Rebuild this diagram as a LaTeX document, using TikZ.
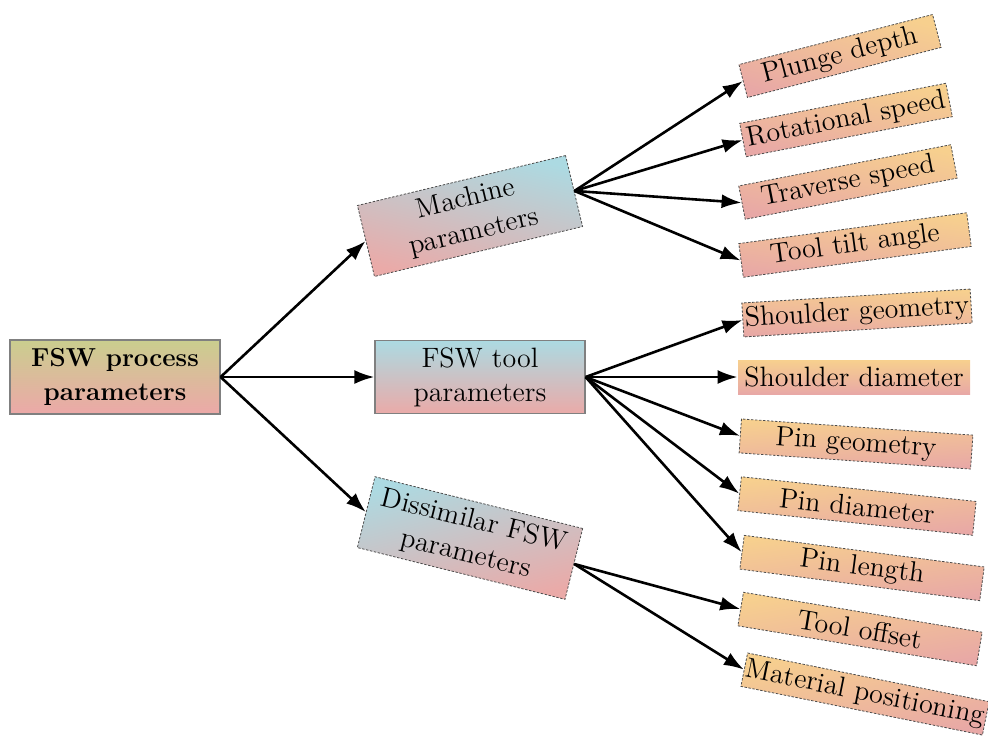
\documentclass[tikz,border=0pt]{standalone}
\usetikzlibrary{arrows.meta}

\definecolor{rootgreen}{RGB}{202,206,142}
\definecolor{rootpink}{RGB}{236,168,168}
\definecolor{groupblue}{RGB}{172,218,226}
\definecolor{grouppink}{RGB}{234,170,168}
\definecolor{leaforange}{RGB}{247,208,142}
\definecolor{leafpink}{RGB}{232,168,166}

\begin{document}
\begin{tikzpicture}[x=0.5pt,y=-0.5pt,
    box/.style={font=\fontsize{14}{17}\selectfont, align=center, inner sep=2pt},
    dashedge/.style={draw=gray!60!black, dash pattern=on 1.2pt off 0.8pt, line width=0.4pt},
    rootbox/.style={box, font=\fontsize{13}{17}\selectfont\bfseries, draw=gray,
      line width=0.6pt, top color=rootgreen, bottom color=rootpink,
      minimum width=105pt, minimum height=37pt},
    groupbox/.style={box, top color=groupblue, bottom color=grouppink,
      minimum width=107pt, minimum height=36.5pt},
    leaf/.style={box, dashedge, top color=leaforange, bottom color=leafpink,
      minimum height=17pt, inner sep=1pt},
    tilt/.style={rotate=#1, shading angle=-#1},
    link/.style={-{Latex[length=10pt,width=7pt]}, line width=1.3pt}]

    \useasboundingbox (0,0) rectangle (988,736);

    % root
    \node[rootbox] (fsw) at (115,377) {FSW process\\parameters};

    % groups
    \node[groupbox, dashedge, tilt=13.5] (machine) at (470,216) {Machine\\parameters};
    \node[groupbox, draw=gray, line width=0.6pt, minimum width=105pt] (tool) at (480,377) {FSW tool\\parameters};
    \node[groupbox, dashedge, tilt=-14] (dissimilar) at (470,538) {Dissimilar FSW\\parameters};

    % machine parameters
    \node[leaf, tilt=14.5, minimum width=100pt] (plunge) at (840,56) {Plunge depth};
    \node[leaf, tilt=11, minimum width=105pt] (rotational) at (846,120) {Rotational speed};
    \node[leaf, tilt=11, minimum width=108pt] (traverse) at (848,182) {Traverse speed};
    \node[leaf, tilt=7.7, minimum width=115pt] (tiltangle) at (855,245) {Tool tilt angle};

    % tool parameters
    \node[leaf, tilt=3.5, minimum width=114pt] (shgeom) at (857,313) {Shoulder geometry};
    \node[leaf, draw=none, minimum width=116pt] (shdia) at (854,377) {Shoulder diameter};
    \node[leaf, tilt=-4, minimum width=116pt] (pingeom) at (856,444) {Pin geometry};
    \node[leaf, tilt=-6, minimum width=118pt] (pindia) at (857,506) {Pin diameter};
    \node[leaf, tilt=-7.5, minimum width=121pt] (pinlen) at (862,568) {Pin length};

    % dissimilar parameters
    \node[leaf, tilt=-9.5, minimum width=121pt] (offset) at (860,629) {Tool offset};
    \node[leaf, tilt=-11.4, minimum width=123pt] (position) at (865,694) {Material positioning};

    % arrows
    \draw[link] (fsw.east) -- (machine.west);
    \draw[link] (fsw.east) -- (tool.west);
    \draw[link] (fsw.east) -- (dissimilar.west);

    \draw[link] (machine.east) -- (plunge.west);
    \draw[link] (machine.east) -- (rotational.west);
    \draw[link] (machine.east) -- (traverse.west);
    \draw[link] (machine.east) -- (tiltangle.west);

    \draw[link] (tool.east) -- (shgeom.west);
    \draw[link] (tool.east) -- (shdia.west);
    \draw[link] (tool.east) -- (pingeom.west);
    \draw[link] (tool.east) -- (pindia.west);
    \draw[link] (tool.east) -- (pinlen.west);

    \draw[link] (dissimilar.east) -- (offset.west);
    \draw[link] (dissimilar.east) -- (position.west);
\end{tikzpicture}
\end{document}
